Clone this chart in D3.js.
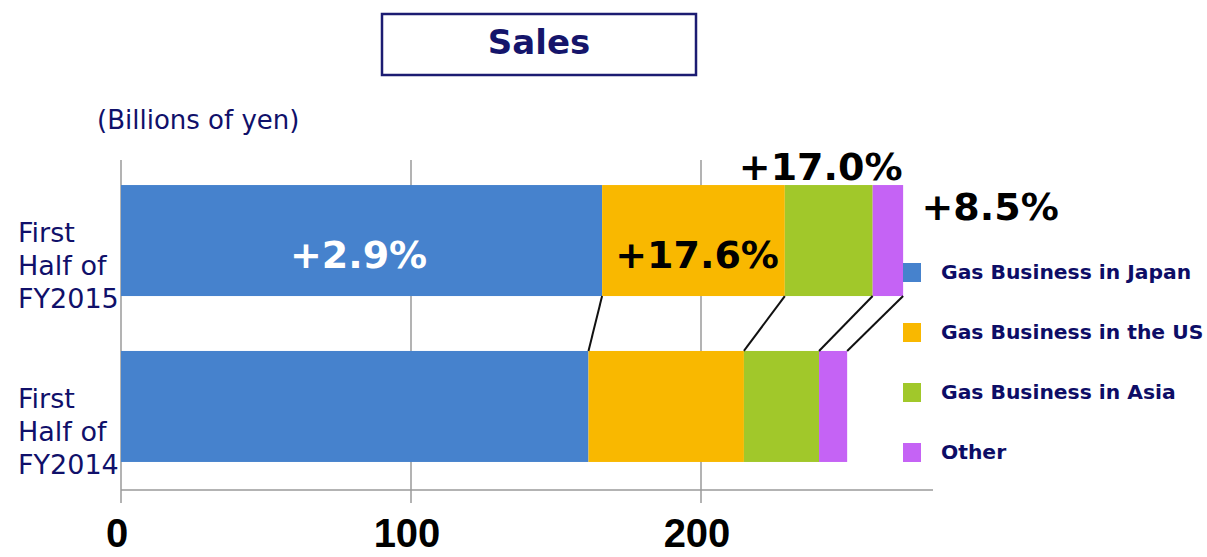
<!DOCTYPE html>
<meta charset="utf-8">
<style>
body { margin: 0; background: #fff; font-family: "DejaVu Sans", Verdana, sans-serif; }
.grid line { stroke: #9a9a9a; stroke-width: 1.5; }
.cat { fill: #10106a; font-size: 27px; }
.legend text { fill: #0d0d66; font-size: 20.3px; font-weight: bold; }
.pct { font-weight: bold; font-size: 38px; }
.tick-label { font-family: "Liberation Sans", Arial, sans-serif; font-weight: bold; font-size: 40px; }
</style>
<body>
<script src="https://d3js.org/d3.v7.min.js"></script>
<script>

var width = 1207,
    height = 557;

var categories = ["First Half of FY2015", "First Half of FY2014"];
var catLines = [["First", "Half of", "FY2015"], ["First", "Half of", "FY2014"]];
var series = ["Gas Business in Japan", "Gas Business in the US", "Gas Business in Asia", "Other"];
var colors = ["#4682cd", "#f9b800", "#a1c82a", "#c563f5"];

var japan = [165.9, 161.2];
var us    = [63.0, 53.6];
var asia  = [30.3, 25.9];
var other = [10.5, 9.7];

var growth = ["+2.9%", "+17.6%", "+17.0%", "+8.5%"];
var ticks = [0, 100, 200];

var rows = categories.map(function(c, i) {
  return { cat: c, "Gas Business in Japan": japan[i], "Gas Business in the US": us[i],
           "Gas Business in Asia": asia[i], "Other": other[i] };
});

var stacked = d3.stack().keys(series)(rows);

var x = d3.scaleLinear().domain([0, 280]).range([121, 933]);
var y = d3.scaleBand().domain(categories).range([157, 490]).paddingInner(0.331).paddingOuter(0.169);

var svg = d3.select("body").append("svg")
    .attr("width", width)
    .attr("height", height);

// title box
svg.append("rect")
    .attr("x", 382).attr("y", 14).attr("width", 314).attr("height", 61)
    .attr("fill", "#fff").attr("stroke", "#1c1c72").attr("stroke-width", 2.5);
svg.append("text")
    .attr("x", 539).attr("y", 54)
    .attr("text-anchor", "middle")
    .attr("fill", "#15156b")
    .style("font-size", "34px").style("font-weight", "bold")
    .text("Sales");

svg.append("text")
    .attr("x", 97).attr("y", 129)
    .attr("fill", "#10106a")
    .style("font-size", "26px")
    .text("(Billions of yen)");

// gridlines + ticks
var grid = svg.append("g").attr("class", "grid");
grid.selectAll(".v")
    .data(ticks)
  .enter().append("line")
    .attr("x1", function(d) { return x(d); })
    .attr("x2", function(d) { return x(d); })
    .attr("y1", 160).attr("y2", 503);
grid.append("line")
    .attr("x1", x(0)).attr("x2", x(280))
    .attr("y1", 490).attr("y2", 490);

svg.selectAll(".tick-label")
    .data(ticks)
  .enter().append("text")
    .attr("class", "tick-label")
    .attr("x", function(d) { return x(d) - 4; })
    .attr("y", 547)
    .attr("text-anchor", "middle")
    .text(function(d) { return d; });

// bars
svg.selectAll(".layer")
    .data(stacked)
  .enter().append("g")
    .attr("class", "layer")
    .attr("fill", function(d, i) { return colors[i]; })
  .selectAll("rect")
    .data(function(d) { return d; })
  .enter().append("rect")
    .attr("x", function(d) { return x(d[0]); })
    .attr("y", function(d) { return y(d.data.cat); })
    .attr("width", function(d) { return x(d[1]) - x(d[0]); })
    .attr("height", y.bandwidth());

// connector lines between segment ends
svg.selectAll(".conn")
    .data(stacked)
  .enter().append("line")
    .attr("x1", function(d) { return x(d[0][1]); })
    .attr("y1", y(categories[0]) + y.bandwidth())
    .attr("x2", function(d) { return x(d[1][1]); })
    .attr("y2", y(categories[1]))
    .attr("stroke", "#111").attr("stroke-width", 2);

// category labels
catLines.forEach(function(lines, i) {
  var t = svg.append("text").attr("class", "cat");
  lines.forEach(function(l, j) {
    t.append("tspan")
      .attr("x", 18)
      .attr("y", y(categories[i]) + 57 + j * 33)
      .text(l);
  });
});

// growth labels
var barTop = y(categories[0]);
var pctPos = [
  { x: (x(stacked[0][0][0]) + x(stacked[0][0][1])) / 2 - 3, y: barTop + 83, fill: "#fff" },
  { x: x(stacked[1][0][0]) + 95, y: barTop + 83, fill: "#000" },
  { x: x(stacked[2][0][1]) - 52, y: barTop - 5, fill: "#000" },
  { x: x(stacked[3][0][1]) + 87, y: barTop + 35, fill: "#000" }
];
svg.selectAll(".pct")
    .data(growth)
  .enter().append("text")
    .attr("class", "pct")
    .attr("text-anchor", "middle")
    .attr("x", function(d, i) { return pctPos[i].x; })
    .attr("y", function(d, i) { return pctPos[i].y; })
    .attr("fill", function(d, i) { return pctPos[i].fill; })
    .text(function(d) { return d; });

// legend
var legend = svg.append("g").attr("class", "legend")
  .selectAll("g")
    .data(series)
  .enter().append("g")
    .attr("transform", function(d, i) { return "translate(903," + (263 + i * 60) + ")"; });
legend.append("rect")
    .attr("width", 18).attr("height", 19)
    .attr("fill", function(d, i) { return colors[i]; });
legend.append("text")
    .attr("x", 38).attr("y", 16)
    .text(function(d) { return d; });

</script>
